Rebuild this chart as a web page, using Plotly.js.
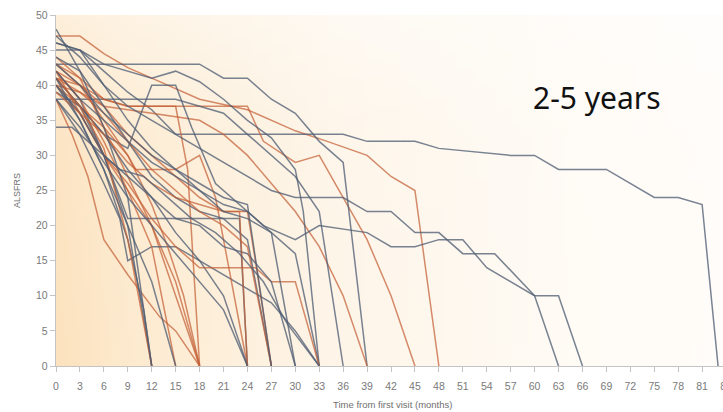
<!DOCTYPE html>
<html>
<head>
<meta charset="utf-8">
<script src="https://cdn.plot.ly/plotly-3.0.1.min.js"></script>
<style>
  html, body { margin: 0; padding: 0; background: #ffffff; overflow: hidden; }
  #chart { width: 800px; height: 412px; }
</style>
</head>
<body>
<div id="chart"></div>
<script>
// ALSFRS score trajectories per patient, months from first visit.
// Slate lines and rust lines are the two patient groups.
const slateMonths = [
  [0, 3, 6, 9, 12, 15, 36, 39, 45, 48, 57, 60, 63, 69, 75, 78, 81, 83],
  [0, 18, 21, 24, 27, 30, 33, 36, 39],
  [0, 3, 6, 9, 12, 15, 18, 21, 24, 27, 30, 31, 33],
  [0, 3, 6, 9, 12, 15, 17, 20, 24, 27, 30, 33],
  [0, 3, 6, 8, 9, 12, 15, 18, 21, 24, 27, 30, 33],
  [0, 15, 18, 21, 24, 27, 30, 33, 36],
  [0, 3, 6, 9, 12],
  [0, 3, 6, 9, 11, 12],
  [0, 3, 6, 9, 12, 15, 18, 21, 24],
  [0, 3, 6, 9, 23, 24],
  [0, 3, 6, 9, 12, 15, 18, 21, 24, 27],
  [0, 3, 6, 9, 12, 15, 18, 21, 24, 27, 30],
  [0, 3, 6, 9, 12, 15, 18, 21, 24, 27, 30, 34, 36, 39, 42, 45, 48, 51, 55, 60, 63, 66],
  [0, 3, 6, 9, 12, 15, 18, 21, 24, 26, 30, 33, 39, 42, 45, 48, 51, 54, 60, 63],
  [0, 3, 6, 9, 12],
  [0, 3, 6, 9, 12, 15, 18, 21, 24],
  [0, 3, 6, 9, 12, 15, 18, 21, 24, 27],
  [0, 3, 6, 9, 12, 15, 18, 21, 24, 27, 30],
  [0, 3, 6, 9, 12, 15],
  [0, 2, 5, 8, 11, 14, 17, 20, 23, 26, 29, 33]
];
const slateScores = [
  [46, 45, 42, 39, 36.5, 33, 33, 32, 32, 31, 30, 30, 28, 28, 24, 24, 23, 0],
  [43, 43, 41, 41, 38, 36, 32, 29, 0],
  [45, 45, 43, 42, 41, 42, 40.5, 38, 35, 32.5, 28, 22, 0],
  [41, 37, 33, 31, 40, 40, 34, 26, 22, 19, 16, 0],
  [38, 33, 26, 21, 15, 17, 17, 15, 13, 11, 9, 5, 0],
  [38, 38, 37, 36, 33, 30, 27, 22, 0],
  [42, 38, 30, 20, 0],
  [40, 35, 28, 18, 8, 0],
  [39, 37, 33, 28, 24, 19, 15, 10, 0],
  [41, 37, 30, 21, 21, 0],
  [44, 42, 37, 32, 27, 24, 22, 21, 18, 0],
  [40, 36, 30, 27, 24, 21, 20, 17, 16, 12, 0],
  [47, 44, 40, 37, 35, 33, 31, 29, 27, 25, 24, 24, 24, 22, 22, 19, 19, 16, 16, 10, 10, 0],
  [42, 38, 35, 32, 29, 27, 25, 23, 22, 20, 18, 20, 19, 17, 17, 18, 18, 14, 10, 0],
  [48, 42, 34, 24, 0],
  [38, 34, 29, 24, 20, 16, 12, 8, 0],
  [46, 45, 40, 35, 31, 28, 26, 24, 23, 0],
  [43, 40, 36, 33, 30, 28, 25, 22, 21, 19, 0],
  [41, 35, 28, 20, 12, 0],
  [34, 34, 31, 28, 27, 24, 21, 19, 16, 12, 6, 0]
];
const rustMonths = [
  [0, 3, 6, 9, 12, 15, 18, 24, 27, 30, 34, 39, 42, 45, 48],
  [0, 3, 6, 9, 24, 26, 30, 33, 36, 39, 42, 45],
  [0, 3, 6, 12, 18, 21, 24, 27, 30, 33, 36, 39],
  [0, 3, 6, 9, 12, 15, 18],
  [0, 3, 6, 9, 12, 15, 18],
  [0, 2, 4, 6, 9, 11, 13, 15, 18],
  [0, 3, 6, 9, 12, 14, 16, 18],
  [0, 3, 6, 9, 15, 16.5, 18],
  [0, 3, 6, 9, 10, 15, 18, 20, 22, 24],
  [0, 3, 6, 9, 12, 15, 18, 21, 24, 25, 27],
  [0, 3, 6, 9, 12, 15, 18, 25, 27, 30, 33],
  [0, 3, 6, 9, 12],
  [0, 3, 6, 9, 12, 15],
  [0, 3, 6, 9, 12, 15, 18, 21, 24, 27],
  [0, 3, 6, 9, 12, 15, 18, 21, 23, 24]
];
const rustScores = [
  [47, 47, 44.5, 42.5, 41, 39.5, 38, 36.5, 35, 33.5, 32, 30, 27, 25, 0],
  [43, 41, 38, 37, 37, 32, 29, 30, 24, 18, 10, 0],
  [40, 39, 37, 36, 35, 33, 30, 26, 22, 17, 10, 0],
  [44, 41, 34, 27, 20, 10, 0],
  [40, 36, 30, 25, 20, 12, 0],
  [38, 33, 27, 18, 13, 10, 7, 5, 0],
  [43, 40, 35, 30, 23, 17, 10, 0],
  [41, 40, 38, 37, 37, 28, 0],
  [40, 37, 34, 30, 28, 28, 30, 24, 12, 0],
  [42, 40, 37, 33, 30, 27, 24, 22, 22, 15, 0],
  [42, 36, 30, 26, 21, 17, 14, 14, 12, 12, 0],
  [41, 37, 31, 18, 0],
  [42, 38, 32, 25, 17, 0],
  [41, 39, 36, 32, 28, 25, 22, 20, 17, 0],
  [39, 36, 33, 29, 26, 24, 23, 22, 22, 0]
];

const xTicks = [0, 3, 6, 9, 12, 15, 18, 21, 24, 27, 30, 33, 36, 39, 42, 45, 48, 51, 54, 57, 60, 63, 66, 69, 72, 75, 78, 81, 84];
const yTicks = [0, 5, 10, 15, 20, 25, 30, 35, 40, 45, 50];

const slateColor = 'rgba(78, 92, 114, 0.76)';
const rustColor = 'rgba(196, 96, 54, 0.72)';

function lineTrace(x, y, color) {
  return {
    type: 'scatter', mode: 'lines', x: x, y: y,
    line: { color: color, width: 1.5 },
    hoverinfo: 'skip', showlegend: false
  };
}

// interleave the two groups so neither sits entirely on top
const traces = [];
const n = Math.max(slateMonths.length, rustMonths.length);
for (let i = 0; i < n; i++) {
  if (i < rustMonths.length) traces.push(lineTrace(rustMonths[i], rustScores[i], rustColor));
  if (i < slateMonths.length) traces.push(lineTrace(slateMonths[i], slateScores[i], slateColor));
}

// warm wash behind the plotting area, strongest at the lower left
function backdrop() {
  const c = document.createElement('canvas');
  c.width = 700; c.height = 350;
  const g = c.getContext('2d');
  const lin = g.createLinearGradient(0, 0, 700, 0);
  lin.addColorStop(0, 'rgb(252, 226, 190)');
  lin.addColorStop(0.12, 'rgb(253, 235, 208)');
  lin.addColorStop(0.4, 'rgb(254, 245, 232)');
  lin.addColorStop(0.75, 'rgb(255, 251, 245)');
  lin.addColorStop(1, 'rgb(255, 253, 250)');
  g.fillStyle = lin;
  g.fillRect(0, 0, 700, 350);
  const top = g.createLinearGradient(0, 0, 0, 350);
  top.addColorStop(0, 'rgba(255, 255, 255, 0.45)');
  top.addColorStop(0.35, 'rgba(255, 255, 255, 0.1)');
  top.addColorStop(1, 'rgba(255, 255, 255, 0)');
  g.fillStyle = top;
  g.fillRect(0, 0, 700, 350);
  return c.toDataURL('image/png');
}

const tickFont = { family: 'Liberation Sans, Arial, sans-serif', size: 10.5, color: '#7a7a7a' };

const layout = {
  width: 800, height: 412,
  margin: { l: 56, r: 58, t: 15, b: 46 },
  paper_bgcolor: '#ffffff',
  plot_bgcolor: 'rgba(0,0,0,0)',
  showlegend: false,
  xaxis: {
    range: [0, 86], tickmode: 'array', tickvals: xTicks,
    showgrid: false, zeroline: false,
    showline: true, linecolor: '#c4c4c4', linewidth: 1.3,
    ticks: 'outside', ticklen: 5, tickcolor: '#c4c4c4',
    ticklabelstandoff: 5,
    tickfont: tickFont
  },
  yaxis: {
    range: [0, 50], tickmode: 'array', tickvals: yTicks,
    showgrid: false, zeroline: false,
    showline: true, linecolor: '#c4c4c4', linewidth: 1.3,
    ticks: 'outside', ticklen: 5, tickcolor: '#c4c4c4',
    tickfont: tickFont
  },
  images: [{
    source: backdrop(), xref: 'paper', yref: 'paper',
    x: 0, y: 1, sizex: 1, sizey: 1, sizing: 'stretch',
    xanchor: 'left', yanchor: 'top', layer: 'below'
  }],
  annotations: [
    {
      text: '2-5 years', xref: 'paper', yref: 'paper',
      x: (597 - 56) / 686, y: (366 - 97) / 351,
      xanchor: 'center', yanchor: 'middle', showarrow: false,
      font: { family: 'Noto Sans, sans-serif', size: 30, color: '#111111' }
    },
    {
      text: 'Time from first visit (months)', xref: 'paper', yref: 'paper',
      x: (392 - 56) / 686, y: -(404 - 366) / 351,
      xanchor: 'center', yanchor: 'middle', showarrow: false,
      font: { family: 'Liberation Sans, Arial, sans-serif', size: 9.5, color: '#6f6f6f' }
    },
    {
      text: 'ALSFRS', xref: 'paper', yref: 'paper',
      x: -(56 - 17) / 686, y: (366 - 191) / 351, textangle: -90,
      xanchor: 'center', yanchor: 'middle', showarrow: false,
      font: { family: 'Liberation Sans, Arial, sans-serif', size: 9, color: '#6f6f6f' }
    }
  ]
};

Plotly.newPlot('chart', traces, layout, { displayModeBar: false, staticPlot: true });
</script>
</body>
</html>
